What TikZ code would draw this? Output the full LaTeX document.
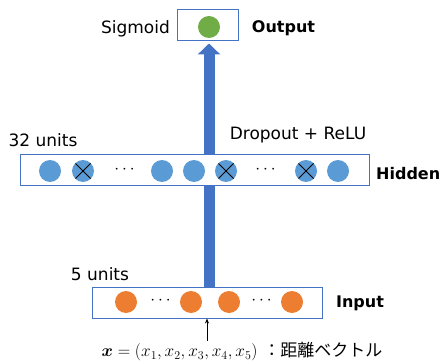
\documentclass[tikz,border=0pt]{standalone}
\usepackage{amsmath,bm}
\usepackage{fontspec}
\setmainfont{DejaVu Sans}
\newfontfamily\jpfont{Noto Sans CJK JP}
\usetikzlibrary{arrows.meta,calc}
\pgfdeclarelayer{background}
\pgfsetlayers{background,main}
\definecolor{boxblue}{HTML}{4472C4}
\definecolor{hidblue}{HTML}{5B9BD5}
\definecolor{inorange}{HTML}{ED7D31}
\definecolor{outgreen}{HTML}{70AD47}
\begin{document}
\begin{tikzpicture}[x=1pt,y=-1pt,
  layerbox/.style={draw=boxblue,line width=1pt,fill=white,minimum height=31pt,inner sep=0pt},
  unit/.style={circle,inner sep=0pt,minimum size=22pt},
  hunit/.style={unit,fill=hidblue},
  iunit/.style={unit,fill=inorange},
  ounit/.style={unit,fill=outgreen},
  dotsnode/.style={inner sep=0pt,font=\fontsize{16}{18}\selectfont},
  lbl/.style={inner sep=0pt,font=\fontsize{17}{20}\selectfont},
  blbl/.style={inner sep=0pt,font=\fontsize{16}{20}\selectfont\bfseries}]
\useasboundingbox (0,0) rectangle (441,363);
% boxes
\node[layerbox,minimum width=61pt] (outbox) at (207.5,25.5) {};
\node[layerbox,minimum width=349pt] (hidbox) at (194.5,170.5) {};
\node[layerbox,minimum width=230pt] (inbox) at (207,302.5) {};
% output unit
\node[ounit] (g) at (209,27) {};
% hidden units
\node[hunit] (h1) at (50,171) {};
\node[hunit] (h2) at (83,171) {};
\node[dotsnode] (hd1) at (126,170) {$\cdots$};
\node[hunit] (h3) at (162,171) {};
\node[hunit] (h4) at (194,171) {};
\node[hunit] (h5) at (226,171) {};
\node[dotsnode] (hd2) at (267,170) {$\cdots$};
\node[hunit] (h6) at (306,171) {};
\node[hunit] (h7) at (338,171) {};
\foreach \n in {h2,h5,h6}{
  \draw[line width=0.9pt] ($(\n)+(-7.5,-7.5)$) -- ($(\n)+(7.5,7.5)$);
  \draw[line width=0.9pt] ($(\n)+(-7.5,7.5)$) -- ($(\n)+(7.5,-7.5)$);
}
% input units
\node[iunit] (i1) at (126,302) {};
\node[dotsnode] (id1) at (162,301) {$\cdots$};
\node[iunit] (i2) at (191,302) {};
\node[iunit] (i3) at (229,302) {};
\node[dotsnode] (id2) at (263,301) {$\cdots$};
\node[iunit] (i4) at (292,302) {};
% big arrow (behind the hidden layer box)
\begin{pgfonlayer}{background}
\draw[boxblue,line width=11pt,-{Triangle[width=22pt,length=11pt]}]
  (inbox.north -| g) -- ($(g |- outbox.south)+(0,2)$);
\end{pgfonlayer}
% labels
\node[lbl] (sig) at (135.5,29) {Sigmoid};
\node[blbl] (outl) at (283.5,28) {Output};
\node[lbl] (u32) at (43,140) {32 units};
\node[lbl] (drop) at (298,135) {Dropout + ReLU};
\node[blbl,anchor=west] (hidl) at (376,174) {Hidden};
\node[lbl] (u5) at (100,274) {5 units};
\node[blbl] (inl) at (360,303) {Input};
\node[lbl] (xv) at (242,352) {\fontsize{18.5}{20}\selectfont$\bm{x}=(x_1,x_2,x_3,x_4,x_5)$\ {\jpfont\fontsize{17}{20}\selectfont ：距離ベクトル}};
\coordinate (xtop) at (207,341);
\draw[line width=0.8pt,-{Stealth[length=5pt,width=4pt]}] (xtop) -- (inbox.south -| xtop);
\end{tikzpicture}
\end{document}
